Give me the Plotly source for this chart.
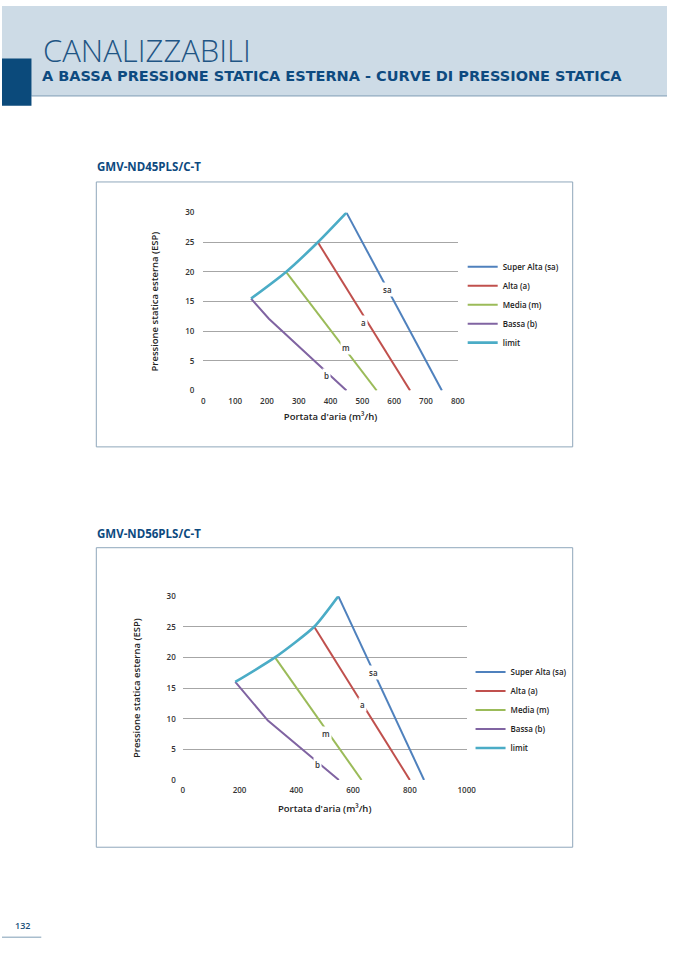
import plotly.graph_objects as go

W, H = 677, 958

# ── data: GMV-ND45PLS/C-T ───────────────────────────────────────────────
c1_sa_x = [450, 750]
c1_sa_y = [30, 0]
c1_a_x = [360, 650]
c1_a_y = [25, 0]
c1_m_x = [260, 545]
c1_m_y = [20, 0]
c1_b_x = [150, 206, 450]
c1_b_y = [15.5, 12.1, 0]
c1_lim_x = [150, 260, 360, 450]
c1_lim_y = [15.5, 20, 25, 30]
c1_xticks = [0, 100, 200, 300, 400, 500, 600, 700, 800]

# ── data: GMV-ND56PLS/C-T ───────────────────────────────────────────────
c2_sa_x = [548, 850]
c2_sa_y = [30, 0]
c2_a_x = [463, 800]
c2_a_y = [25, 0]
c2_m_x = [325, 630]
c2_m_y = [20, 0]
c2_b_x = [185, 300, 550]
c2_b_y = [16, 9.7, 0]
c2_lim_x = [185, 325, 463, 548]
c2_lim_y = [16, 20, 25, 30]
c2_xticks = [0, 200, 400, 600, 800, 1000]

y_ticks = [0, 5, 10, 15, 20, 25, 30]
series_names = ["Super Alta (sa)", "Alta (a)", "Media (m)", "Bassa (b)", "limit"]
series_tags = ["sa", "a", "m", "b"]
c1_tag_pos = [(580, 17.0), (505, 11.5), (448, 7.2), (386, 2.6)]
c2_tag_pos = [(673, 17.5), (632, 12.3), (505, 7.6), (474, 2.6)]

colors = ["#4f81bd", "#c0504d", "#9bbb59", "#8064a2", "#4bacc6"]
FONT = "Open Sans"
HEAD = "DejaVu Sans"
DARK = "#0d4a80"


def px(x):
    return x / W


def py(y):
    return 1 - y / H


fig = go.Figure()


def add_chart(sfx, legend, xs, ys):
    for i, (x, y) in enumerate(zip(xs, ys)):
        is_lim = i == 4
        fig.add_trace(go.Scatter(
            x=x, y=y, mode="lines", name=series_names[i],
            line=dict(color=colors[i], width=2.6 if is_lim else 2,
                      shape="spline" if is_lim else "linear", smoothing=0.6),
            xaxis="x" + sfx, yaxis="y" + sfx, legend=legend,
            hoverinfo="skip",
        ))


add_chart("", "legend",
          [c1_sa_x, c1_a_x, c1_m_x, c1_b_x, c1_lim_x],
          [c1_sa_y, c1_a_y, c1_m_y, c1_b_y, c1_lim_y])
add_chart("2", "legend2",
          [c2_sa_x, c2_a_x, c2_m_x, c2_b_x, c2_lim_x],
          [c2_sa_y, c2_a_y, c2_m_y, c2_b_y, c2_lim_y])

tick_font = dict(family=FONT, size=8, color="#333333", weight=600)
title_font = dict(family=FONT, size=9.5, color="#222222", weight=600)
xtitle = "Portata d'aria (m³/h)"
ytitle = "Pressione statica esterna (ESP)"


def xaxis(domain, rng, ticks, anchor, standoff):
    return dict(domain=domain, range=rng, tickvals=ticks, anchor=anchor,
                showgrid=False, zeroline=False, showline=False,
                tickfont=tick_font, ticklabelstandoff=4,
                title=dict(text=xtitle, font=title_font, standoff=standoff),
                fixedrange=True)


def yaxis(domain, anchor, standoff, labeloff):
    return dict(domain=domain, range=[0, 30], tickvals=y_ticks, anchor=anchor,
                showgrid=True, gridcolor="#a6a6a6", gridwidth=1,
                zeroline=False, showline=False,
                tickfont=tick_font, ticklabelstandoff=labeloff,
                title=dict(text=ytitle, font=title_font, standoff=standoff),
                fixedrange=True)


shapes = [
    # header band
    dict(type="rect", xref="paper", yref="paper", x0=0, x1=1, y0=py(91), y1=1,
         fillcolor="#cddbe6", line_width=0, layer="below"),
    dict(type="line", xref="paper", yref="paper", x0=px(30), x1=1, y0=py(91), y1=py(91),
         line=dict(color="#7f9db5", width=1)),
    dict(type="rect", xref="paper", yref="paper", x0=0, x1=px(30), y0=py(101), y1=py(53),
         fillcolor="#0b4a7b", line_width=0),
    # chart frames
    dict(type="rect", xref="paper", yref="paper", x0=px(96), x1=px(581), y0=py(446), y1=py(178),
         line=dict(color="#8fa7bb", width=1), layer="below"),
    dict(type="rect", xref="paper", yref="paper", x0=px(96), x1=px(581), y0=py(851), y1=py(548),
         line=dict(color="#8fa7bb", width=1), layer="below"),
    # page number rule
    dict(type="line", xref="paper", yref="paper", x0=0, x1=px(40), y0=py(942), y1=py(942),
         line=dict(color="#7f9db5", width=1)),
]

annotations = [
    dict(text="CANALIZZABILI", x=px(40), y=py(45), xref="paper", yref="paper",
         xanchor="left", yanchor="middle", showarrow=False,
         font=dict(family=FONT, size=31, color="#1f5584", weight=300)),
    dict(text="A BASSA PRESSIONE STATICA ESTERNA - CURVE DI PRESSIONE STATICA",
         x=px(39), y=py(70.5), xref="paper", yref="paper",
         xanchor="left", yanchor="middle", showarrow=False,
         font=dict(family=HEAD, size=14.5, color=DARK, weight=700)),
    dict(text="GMV-ND45PLS/C-T", x=px(95), y=py(162), xref="paper", yref="paper",
         xanchor="left", yanchor="middle", showarrow=False,
         font=dict(family=FONT, size=11.5, color=DARK, weight=700)),
    dict(text="GMV-ND56PLS/C-T", x=px(95), y=py(534), xref="paper", yref="paper",
         xanchor="left", yanchor="middle", showarrow=False,
         font=dict(family=FONT, size=11.5, color=DARK, weight=700)),
    dict(text="132", x=px(11), y=py(930), xref="paper", yref="paper",
         xanchor="left", yanchor="middle", showarrow=False,
         font=dict(family=FONT, size=9, color="#1b4f7a", weight=600)),
]

for sfx, pos in (("", c1_tag_pos), ("2", c2_tag_pos)):
    for tag, (tx, ty) in zip(series_tags, pos):
        annotations.append(dict(
            text=tag, x=tx, y=ty, xref="x" + sfx, yref="y" + sfx, showarrow=False,
            bgcolor="white", borderpad=1,
            font=dict(family=FONT, size=8, color="#333333", weight=600)))

legend_style = dict(xanchor="left", yanchor="top", bgcolor="rgba(0,0,0,0)",
                    font=dict(family=FONT, size=8, color="#222222", weight=600),
                    itemclick=False, itemdoubleclick=False, tracegroupgap=0)

fig.update_layout(
    width=W, height=H,
    margin=dict(l=0, r=0, t=0, b=0),
    paper_bgcolor="white", plot_bgcolor="white",
    showlegend=True,
    xaxis=xaxis([px(205), px(464)], [0, 800], c1_xticks, "y", 8),
    yaxis=yaxis([py(389), py(209)], "x", 24, 8),
    xaxis2=xaxis([px(184), px(473)], [0, 1000], c2_xticks, "y2", 11),
    yaxis2=yaxis([py(783), py(597)], "x2", 24, 6),
    legend=dict(x=px(469), y=py(249), **legend_style),
    legend2=dict(x=px(477), y=py(659), **legend_style),
    shapes=shapes,
    annotations=annotations,
)

# pin the figure to the window's top-left corner
pin = ("var d=document.getElementById('{plot_id}');"
       "d.style.position='fixed';d.style.left='0';d.style.top='0';"
       "document.body.style.margin='0';"
       "document.documentElement.style.overflow='hidden';")
fig.write_html("out.html", config={"displayModeBar": False}, post_script=pin)
